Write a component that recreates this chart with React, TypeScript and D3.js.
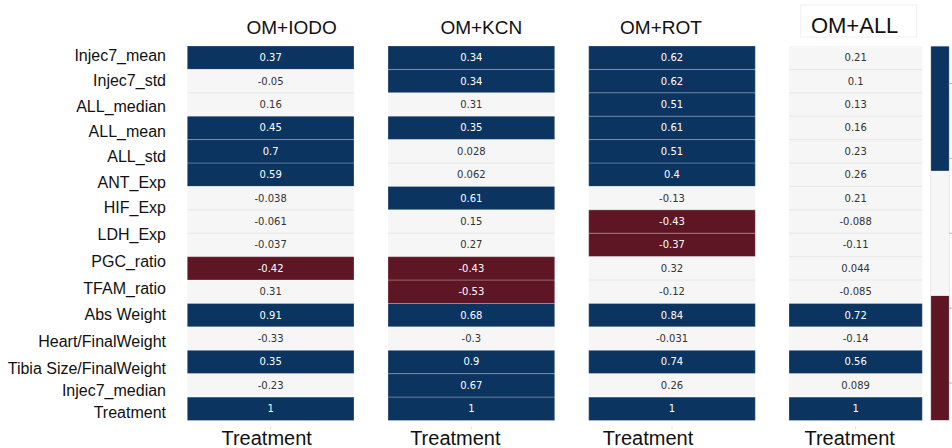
import React from "react";
import * as d3 from "d3";

// Row labels shown on the left
const rowLabels = [
  "Injec7_mean",
  "Injec7_std",
  "ALL_median",
  "ALL_mean",
  "ALL_std",
  "ANT_Exp",
  "HIF_Exp",
  "LDH_Exp",
  "PGC_ratio",
  "TFAM_ratio",
  "Abs Weight",
  "Heart/FinalWeight",
  "Tibia Size/FinalWeight",
  "Injec7_median",
  "Treatment",
];

// Panel titles and the single x category of each panel
const panelTitles = ["OM+IODO", "OM+KCN", "OM+ROT", "OM+ALL"];
const xCategory = "Treatment";

// Correlation with Treatment, one column per panel
const iodoValues = [0.37, -0.05, 0.16, 0.45, 0.7, 0.59, -0.038, -0.061, -0.037, -0.42, 0.31, 0.91, -0.33, 0.35, -0.23, 1];
const kcnValues = [0.34, 0.34, 0.31, 0.35, 0.028, 0.062, 0.61, 0.15, 0.27, -0.43, -0.53, 0.68, -0.3, 0.9, 0.67, 1];
const rotValues = [0.62, 0.62, 0.51, 0.61, 0.51, 0.4, -0.13, -0.43, -0.37, 0.32, -0.12, 0.84, -0.031, 0.74, 0.26, 1];
const allValues = [0.21, 0.1, 0.13, 0.16, 0.23, 0.26, 0.21, -0.088, -0.11, 0.044, -0.085, 0.72, -0.14, 0.56, 0.089, 1];

// Colour bar ticks
const colorbarTicks = [-0.8, -0.4, 0, 0.4, 0.8];

const panelValues = [iodoValues, kcnValues, rotValues, allValues];

// Layout
const W = 952;
const H = 448;
const TOP = 46;
const BOTTOM = 420.5;
const panels = [
  { x0: 187.3, x1: 354, titleDx: 21, labelDx: -4, titleSize: 19 },
  { x0: 388, x1: 554.7, titleDx: 10, labelDx: -16, titleSize: 19 },
  { x0: 588.7, x1: 755.3, titleDx: -11, labelDx: -24, titleSize: 19 },
  { x0: 789, x1: 922.3, titleDx: -1, labelDx: -6, titleSize: 22 },
];
const CB_X0 = 930.7;
const CB_X1 = 949.3;

const BLUE = "#0c3461";
const RED = "#5e1624";
const MID = "#f6f6f6";

const color = d3
  .scaleThreshold<number, string>()
  .domain([-1 / 3, 1 / 3])
  .range([RED, MID, BLUE]);

export default function App() {
  const nRows = iodoValues.length;
  const y = d3
    .scaleBand<number>()
    .domain(d3.range(nRows))
    .range([TOP, BOTTOM])
    .padding(0);

  // label baselines: spacing widens a little towards the lower rows
  const labelY = d3
    .scaleLinear()
    .domain([0, 6, 12, 14])
    .range([61, 213, 374, 417.7]);

  const cbY = d3.scaleLinear().domain([-1, 1]).range([BOTTOM, TOP]);
  const cbBins = [
    [-1, -1 / 3],
    [-1 / 3, 1 / 3],
    [1 / 3, 1],
  ];

  const sans = "'Liberation Sans', Arial, Helvetica, sans-serif";
  const cellFont = "'DejaVu Sans', sans-serif";

  return (
    <svg
      width={W}
      height={H}
      style={{ position: "absolute", left: 0, top: 0, background: "#fff" }}
    >
      <rect x={0} y={0} width={W} height={H} fill="#fff" />

      {/* row labels */}
      {rowLabels.map((lab, i) => (
        <text
          key={lab}
          x={166}
          y={labelY(i)}
          textAnchor="end"
          fontFamily={sans}
          fontSize={16}
          fill="#111"
        >
          {lab}
        </text>
      ))}

      {panels.map((p, pi) => {
        const x = d3.scaleBand<string>().domain([xCategory]).range([p.x0, p.x1]);
        const cx = (x(xCategory) as number) + x.bandwidth() / 2;
        const vals = panelValues[pi];
        return (
          <g key={pi}>
            {pi === 3 && (
              <rect
                x={800.7}
                y={5}
                width={116}
                height={32}
                fill="#fff"
                stroke="#f0f0f0"
                strokeWidth={1}
              />
            )}
            <text
              x={cx + p.titleDx}
              y={pi === 3 ? 33 : 34.3}
              textAnchor="middle"
              fontFamily={sans}
              fontSize={p.titleSize}
              fill="#111"
            >
              {panelTitles[pi]}
            </text>
            {vals.map((v, i) => {
              const c = color(v);
              const yy = y(i) as number;
              return (
                <g key={i}>
                  <rect
                    x={x(xCategory)}
                    y={yy}
                    width={x.bandwidth()}
                    height={y.bandwidth()}
                    fill={c}
                  />
                  <text
                    x={cx}
                    y={yy + y.bandwidth() / 2}
                    dy="0.35em"
                    textAnchor="middle"
                    fontFamily={cellFont}
                    fontSize={10}
                    fill={c === MID ? "#333" : "#fff"}
                  >
                    {String(v)}
                  </text>
                </g>
              );
            })}
            {/* thin separators between cells */}
            {vals.slice(1).map((_, i) => {
              const yy = y(i + 1) as number;
              const a = color(vals[i]);
              const b = color(vals[i + 1]);
              const dark = a !== MID || b !== MID;
              return (
                <line
                  key={"s" + i}
                  x1={p.x0}
                  x2={p.x1}
                  y1={yy}
                  y2={yy}
                  stroke={dark ? "#ffffff" : "#e6e6e6"}
                  strokeOpacity={dark ? 0.3 : 0.9}
                  strokeWidth={1}
                />
              );
            })}
            <rect
              x={p.x0}
              y={TOP}
              width={p.x1 - p.x0}
              height={BOTTOM - TOP}
              fill="none"
              stroke="#ffffff"
              strokeOpacity={0.25}
              strokeWidth={1}
            />
            <line x1={cx} x2={cx} y1={BOTTOM + 6} y2={BOTTOM + 9} stroke="#ddd" />
            <text
              x={cx + p.labelDx}
              y={445}
              textAnchor="middle"
              fontFamily={sans}
              fontSize={20}
              fill="#111"
            >
              {xCategory}
            </text>
          </g>
        );
      })}

      {/* colour bar */}
      {cbBins.map(([a, b], i) => (
        <rect
          key={i}
          x={CB_X0}
          y={cbY(b)}
          width={CB_X1 - CB_X0}
          height={cbY(a) - cbY(b)}
          fill={color((a + b) / 2)}
        />
      ))}
      <rect
        x={CB_X0}
        y={TOP}
        width={CB_X1 - CB_X0}
        height={BOTTOM - TOP}
        fill="none"
        stroke="#e8e8e8"
        strokeWidth={0.8}
      />
      {colorbarTicks.map((t) => (
        <line
          key={t}
          x1={CB_X1}
          x2={CB_X1 + 2.5}
          y1={cbY(t)}
          y2={cbY(t)}
          stroke="#aaa"
          strokeWidth={1}
        />
      ))}
    </svg>
  );
}
